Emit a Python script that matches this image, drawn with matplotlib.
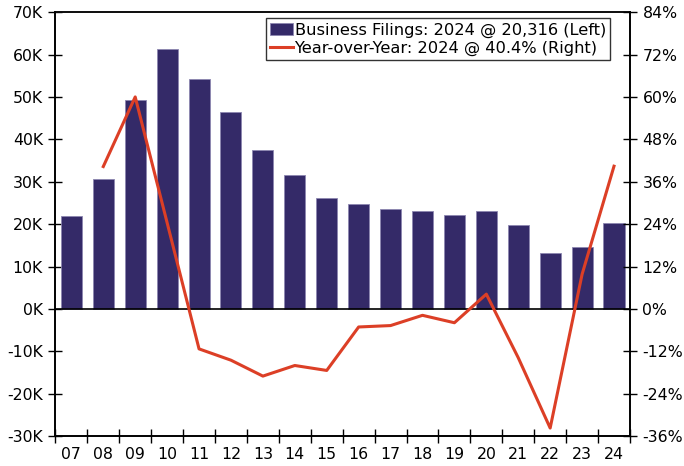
import matplotlib.pyplot as plt
import numpy as np
from matplotlib.ticker import FuncFormatter, FixedLocator

# annual business bankruptcy filings (thousands) and year-over-year change (%)
years = ['07', '08', '09', '10', '11', '12', '13', '14', '15', '16', '17', '18', '19', '20', '21', '22', '23', '24']
filings = [21.9, 30.7, 49.2, 61.2, 54.3, 46.4, 37.6, 31.6, 26.1, 24.7, 23.6, 23.1, 22.2, 23.1, 19.9, 13.2, 14.5, 20.3]
yoy_years = years[1:]
yoy = [40.3, 60.0, 24.4, -11.3, -14.5, -19.0, -16.0, -17.4, -5.1, -4.7, -1.8, -3.9, 4.2, -13.8, -33.7, 9.8, 40.4]

bar_color = '#342a68'
line_color = '#dc3f26'

plt.rcParams['font.family'] = ['Verdana', 'DejaVu Sans']
fig = plt.figure(figsize=(6.84, 4.66), dpi=100)
ax = fig.add_axes([0.081, 0.064, 0.84, 0.91])
ax2 = ax.twinx()

x = np.arange(len(years))
ax.bar(x, filings, width=0.66, color=bar_color, edgecolor='#8c86b0', linewidth=0.6,
       label='Business Filings: 2024 @ 20,316 (Left)', zorder=2)
ax.axhline(0, color='black', linewidth=1.2, zorder=3)
ax.set_ylim(-30, 70)
ax.set_yticks(np.arange(-30, 71, 10))
ax.yaxis.set_major_formatter(FuncFormatter(lambda v, p: '%dK' % v if v != 0 else '0K'))
ax.set_xlim(-0.5, len(years) - 0.5)
ax.set_xticks(x)
ax.set_xticklabels(years)
ax.xaxis.set_minor_locator(FixedLocator(np.arange(-0.5, len(years), 1)))
ax.tick_params(axis='x', which='major', length=0, pad=8, labelsize=11.3)
ax.tick_params(axis='x', which='minor', length=10, direction='inout', width=1)
ax.tick_params(axis='y', length=10, direction='inout', width=1, labelsize=11.3, pad=4)

xl = [years.index(y) for y in yoy_years]
ax2.plot(xl, yoy, color=line_color, linewidth=2.2,
         label='Year-over-Year: 2024 @ 40.4% (Right)', zorder=4)
ax2.set_ylim(-36, 84)
ax2.set_yticks(np.arange(-36, 85, 12))
ax2.yaxis.set_major_formatter(FuncFormatter(lambda v, p: '%d%%' % v))
ax2.tick_params(axis='y', length=10, direction='inout', width=1, labelsize=11.3, pad=4)

for a in (ax, ax2):
    for s in a.spines.values():
        s.set_linewidth(1.2)
ax.spines['top'].set_color('#555555')

h1, l1 = ax.get_legend_handles_labels()
h2, l2 = ax2.get_legend_handles_labels()
leg = ax2.legend(h1 + h2, l1 + l2, loc='upper right', bbox_to_anchor=(0.965, 0.985),
                 fontsize=11.7, frameon=True, fancybox=False, edgecolor='black',
                 handlelength=1.4, handletextpad=0.1, borderpad=0.25, labelspacing=0.18,
                 borderaxespad=0)
leg.get_frame().set_linewidth(1.0)

fig.savefig('out.png', dpi=100)
